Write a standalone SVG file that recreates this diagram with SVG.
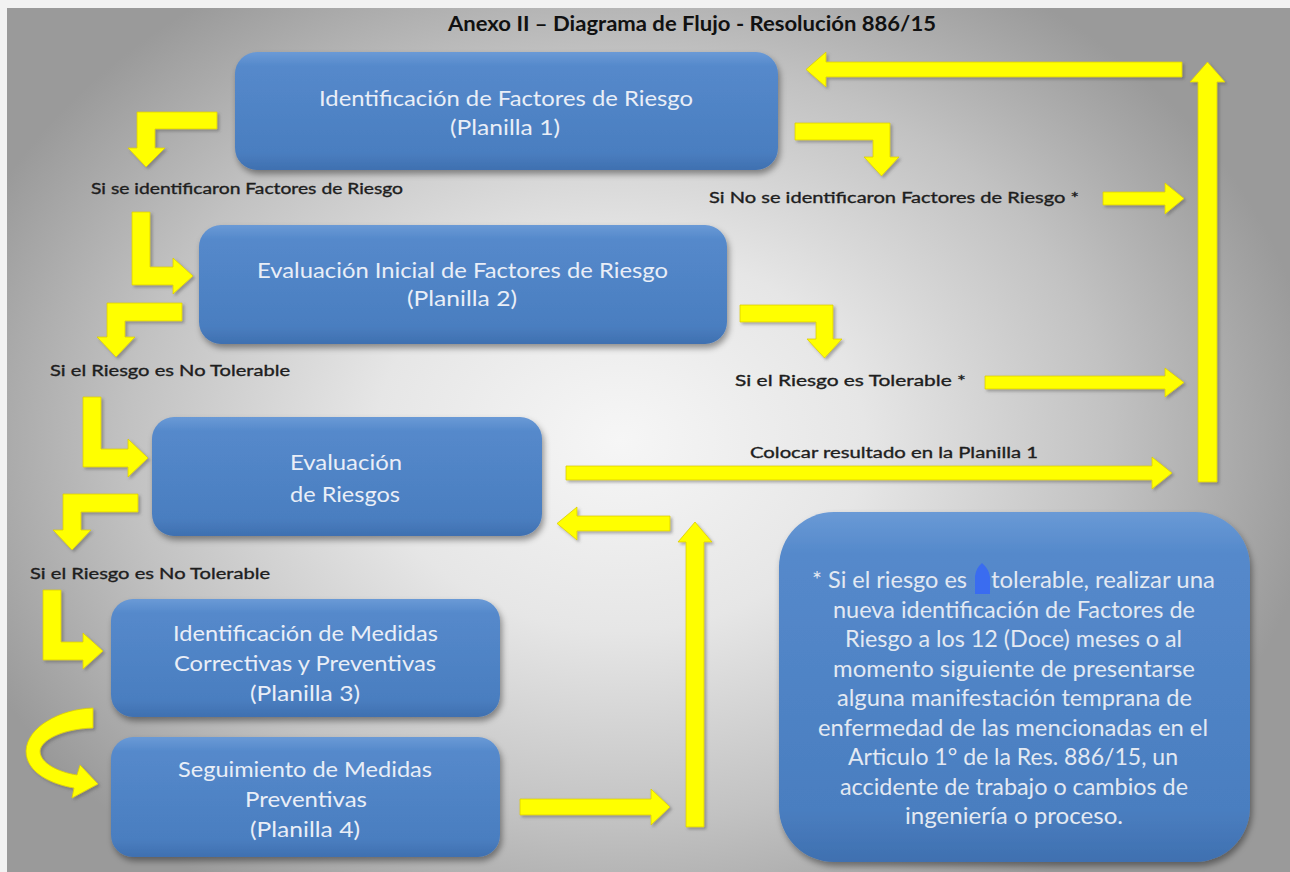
<svg xmlns="http://www.w3.org/2000/svg" width="1290" height="872" viewBox="0 0 1290 872">
<defs>
<radialGradient id="bg" gradientUnits="userSpaceOnUse" cx="620" cy="440" r="700" gradientTransform="translate(620 440) scale(1 0.78) translate(-620 -440)">
<stop offset="0" stop-color="#f6f6f6"/>
<stop offset="0.35" stop-color="#e6e6e6"/>
<stop offset="0.7" stop-color="#c2c2c2"/>
<stop offset="1" stop-color="#9a9a9a"/>
</radialGradient>
<linearGradient id="boxg" x1="0" y1="0" x2="0" y2="1">
<stop offset="0" stop-color="#6a9ad6"/>
<stop offset="0.12" stop-color="#5589cb"/>
<stop offset="0.85" stop-color="#4a7ec0"/>
<stop offset="1" stop-color="#3f70b0"/>
</linearGradient>
<filter id="sh" x="-10%" y="-10%" width="125%" height="130%">
<feDropShadow dx="2" dy="4" stdDeviation="3" flood-color="#000" flood-opacity="0.4"/>
</filter>
<filter id="ysh" x="-10%" y="-10%" width="130%" height="130%">
<feDropShadow dx="2" dy="2" stdDeviation="1.5" flood-color="#555" flood-opacity="0.45"/>
</filter>
<style>
.box{fill:url(#boxg);filter:url(#sh);}
.bt{font-family:Lato,"Liberation Sans",sans-serif;font-size:22px;fill:#e9eef7;}
.nt{font-family:Lato,"Liberation Sans",sans-serif;font-size:23.5px;fill:#e3e9f2;}
.lb{font-family:Lato,"Liberation Sans",sans-serif;font-size:15.5px;fill:#1e1e1e;stroke:#1e1e1e;stroke-width:0.35;}
.ti{font-family:Lato,"Liberation Sans",sans-serif;font-size:20px;font-weight:bold;fill:#111;}
.ar{fill:#ffff00;stroke:#dccd00;stroke-width:0.8;filter:url(#ysh);}
</style>
</defs>
<rect x="0" y="0" width="1290" height="872" fill="#f2f2f2"/>
<rect x="7" y="8" width="1283" height="864" fill="url(#bg)"/>
<text class="ti" x="448" y="31" textLength="488" lengthAdjust="spacingAndGlyphs">Anexo II – Diagrama de Flujo - Resolución 886/15</text>

<g id="n1">
<rect class="box" x="235" y="52" width="543" height="118" rx="22"/>
<text class="bt" x="319" y="106" textLength="374" lengthAdjust="spacingAndGlyphs">Identificación de  Factores de Riesgo</text>
<text class="bt" x="450" y="135" textLength="110" lengthAdjust="spacingAndGlyphs">(Planilla 1)</text>
</g>
<g id="n2">
<rect class="box" x="199" y="225" width="528" height="119" rx="22"/>
<text class="bt" x="257" y="278" textLength="411" lengthAdjust="spacingAndGlyphs">Evaluación Inicial  de Factores de Riesgo</text>
<text class="bt" x="407" y="306" textLength="110" lengthAdjust="spacingAndGlyphs">(Planilla 2)</text>
</g>
<g id="n3">
<rect class="box" x="152" y="417" width="390" height="119" rx="22"/>
<text class="bt" x="290" y="470" textLength="112" lengthAdjust="spacingAndGlyphs">Evaluación</text>
<text class="bt" x="290" y="502" textLength="110" lengthAdjust="spacingAndGlyphs">de Riesgos</text>
</g>
<g id="n4">
<rect class="box" x="111" y="599" width="389" height="118" rx="22"/>
<text class="bt" x="173" y="641" textLength="265" lengthAdjust="spacingAndGlyphs">Identificación de Medidas</text>
<text class="bt" x="174" y="671" textLength="262" lengthAdjust="spacingAndGlyphs">Correctivas y Preventivas</text>
<text class="bt" x="250" y="701" textLength="110" lengthAdjust="spacingAndGlyphs">(Planilla 3)</text>
</g>
<g id="n5">
<rect class="box" x="111" y="737" width="389" height="120" rx="22"/>
<text class="bt" x="178" y="777" textLength="254" lengthAdjust="spacingAndGlyphs">Seguimiento de Medidas</text>
<text class="bt" x="245" y="807" textLength="122" lengthAdjust="spacingAndGlyphs">Preventivas</text>
<text class="bt" x="250" y="837" textLength="110" lengthAdjust="spacingAndGlyphs">(Planilla 4)</text>
</g>
<g id="note">
<rect class="box" x="779" y="512" width="471" height="350" rx="55"/>
<text class="nt" x="812" y="588" textLength="155" lengthAdjust="spacingAndGlyphs">* Si el riesgo es</text>
<path d="M975 594 L975 576 Q976 568 982 563 Q989 569 990 577 L990 594 Z" fill="#3a6cf0"/>
<text class="nt" x="991" y="588" textLength="224" lengthAdjust="spacingAndGlyphs">tolerable, realizar una</text>
<text class="nt" x="833" y="617.5" textLength="362" lengthAdjust="spacingAndGlyphs">nueva identificación de Factores de</text>
<text class="nt" x="845" y="647" textLength="337" lengthAdjust="spacingAndGlyphs">Riesgo a los 12 (Doce) meses o al</text>
<text class="nt" x="833" y="676.5" textLength="362" lengthAdjust="spacingAndGlyphs">momento siguiente de presentarse</text>
<text class="nt" x="837" y="706" textLength="355" lengthAdjust="spacingAndGlyphs">alguna manifestación temprana de</text>
<text class="nt" x="818" y="735.5" textLength="390" lengthAdjust="spacingAndGlyphs">enfermedad de las mencionadas en el</text>
<text class="nt" x="848" y="765" textLength="330" lengthAdjust="spacingAndGlyphs">Articulo 1° de la Res. 886/15, un</text>
<text class="nt" x="840" y="794.5" textLength="348" lengthAdjust="spacingAndGlyphs">accidente de trabajo o cambios de</text>
<text class="nt" x="905" y="824" textLength="218" lengthAdjust="spacingAndGlyphs">ingeniería o proceso.</text>
</g>

<g id="labels">
<text class="lb" x="91" y="194" textLength="312" lengthAdjust="spacingAndGlyphs">Si se identificaron Factores de Riesgo</text>
<text class="lb" x="709" y="203" textLength="370" lengthAdjust="spacingAndGlyphs">Si No se identificaron Factores de Riesgo *</text>
<text class="lb" x="50" y="376" textLength="240" lengthAdjust="spacingAndGlyphs">Si el Riesgo es No Tolerable</text>
<text class="lb" x="735" y="386" textLength="231" lengthAdjust="spacingAndGlyphs">Si el Riesgo es Tolerable *</text>
<text class="lb" x="750" y="458" textLength="288" lengthAdjust="spacingAndGlyphs">Colocar resultado en la Planilla 1</text>
<text class="lb" x="30" y="579" textLength="240" lengthAdjust="spacingAndGlyphs">Si el Riesgo es No Tolerable</text>
</g>

<g id="connectors">
<polygon class="ar" points="217,112 137,112 137,148 128,148 146,167 165,148 155,148 155,129 217,129"/>
<polygon class="ar" points="795,123 890,123 890,157 899,157 881.5,176 864,157 873,157 873,140 795,140"/>
<polygon class="ar" points="132,212 150,212 150,267 173,267 173,258 193,276 173,294 173,285 132,285"/>
<polygon class="ar" points="182,303 107,303 107,337 97,337 116,357 135,337 125,337 125,321 182,321"/>
<polygon class="ar" points="740,305 833,305 833,339 842,339 824.5,358 807,339 816,339 816,322 740,322"/>
<polygon class="ar" points="83,397 101,397 101,449 128,449 128,439 148,458 128,477 128,467 83,467"/>
<polygon class="ar" points="138,494 63,494 63,530 53,530 72,550 91,530 81,530 81,512 138,512"/>
<polygon class="ar" points="43,590 61,590 61,642 83,642 83,633 103,651 83,669 83,660 43,660"/>
<path class="ar" d="M93 708 C60 709 27 727 26 751 C26 772 50 784 74 788 L72 798 L98 784 L80 765 L77 775 C58 772 40 763 40 751 C41 740 62 729 93 728 Z"/>
<polygon class="ar" points="1182,62 826,62 826,52 806,69.5 826,87 826,77 1182,77"/>
<polygon class="ar" points="1198,482 1198,82 1190,82 1207.5,62 1225,82 1217,82 1217,482"/>
<polygon class="ar" points="1103,192 1165,192 1165,183 1184,198.5 1165,214 1165,205 1103,205"/>
<polygon class="ar" points="985,376 1165,376 1165,368 1184,382.5 1165,397 1165,389 985,389"/>
<polygon class="ar" points="566,466 1152,466 1152,457 1172,473 1152,489 1152,480 566,480"/>
<polygon class="ar" points="670,516 577,516 577,507 557,523.5 577,540 577,531 670,531"/>
<polygon class="ar" points="686,827 686,542 678,542 695,522 712,542 704,542 704,827"/>
<polygon class="ar" points="520,799 651,799 651,789 670,807 651,825 651,815 520,815"/>
</g>
</svg>
